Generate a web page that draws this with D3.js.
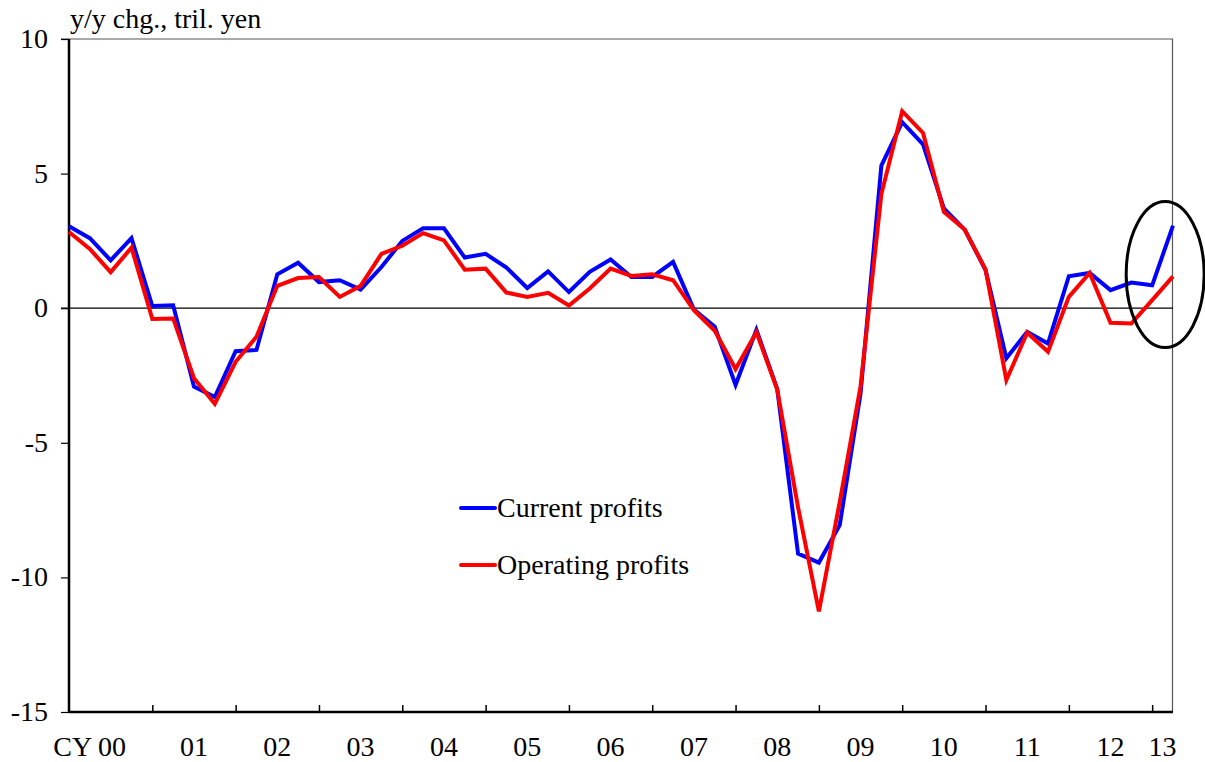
<!DOCTYPE html>
<meta charset="utf-8">
<style>
body { margin: 0; background: #fff; }
svg { display: block; }
text { font-family: "Liberation Serif", "Times New Roman", serif; fill: #000; }
.axis text { font-size: 28px; }
.axis path { display: none; }
</style>
<svg width="1205" height="762"></svg>
<script src="https://d3js.org/d3.v7.min.js"></script>
<script>

// quarterly, 2000Q1 .. 2013Q2
var years = ["00","01","02","03","04","05","06","07","08","09","10","11","12","13"];
var quarters = [];
years.forEach(function(y) {
  [1,2,3,4].forEach(function(q) {
    if (y == "13" && q > 2) return;
    quarters.push(y + "Q" + q);
  });
});

var current = [3.04, 2.6, 1.78, 2.6, 0.08, 0.11, -2.91, -3.3, -1.6, -1.55,
  1.26, 1.69, 0.97, 1.04, 0.69, 1.53, 2.5, 2.97, 2.97, 1.88,
  2.02, 1.51, 0.75, 1.37, 0.6, 1.35, 1.81, 1.16, 1.16, 1.72,
  -0.05, -0.69, -2.85, -0.8, -3.0, -9.12, -9.45, -8.06, -3.17, 5.3,
  6.91, 6.09, 3.71, 2.92, 1.42, -1.86, -0.88, -1.31, 1.19, 1.31,
  0.67, 0.95, 0.85, 3.07];

var operating = [2.83, 2.2, 1.34, 2.25, -0.4, -0.38, -2.6, -3.55, -1.99, -1.06,
  0.83, 1.12, 1.16, 0.42, 0.83, 2.02, 2.32, 2.79, 2.52, 1.43,
  1.47, 0.58, 0.42, 0.57, 0.1, 0.73, 1.47, 1.2, 1.26, 1.04,
  -0.07, -0.84, -2.26, -0.89, -3.02, -7.4, -11.26, -7.2, -2.9, 4.24,
  7.32, 6.51, 3.58, 2.92, 1.44, -2.67, -0.91, -1.62, 0.42, 1.31,
  -0.54, -0.57, 0.3, 1.18];

var yTicks = [-15, -10, -5, 0, 5, 10];

var svg = d3.select("svg");
var plotLeft = 69, plotRight = 1173, plotTop = 39, plotBottom = 712;

var x = d3.scalePoint().domain(quarters).range([plotLeft, plotRight]);
var y = d3.scaleLinear().domain([-15, 10]).range([plotBottom, plotTop]);

// plot frame (top + right, thin grey)
svg.append("line")
  .attr("x1", plotLeft - 8).attr("x2", plotRight).attr("y1", y(10)).attr("y2", y(10))
  .attr("stroke", "#555").attr("stroke-width", 1.2);
svg.append("line")
  .attr("x1", plotRight - 0.5).attr("x2", plotRight - 0.5).attr("y1", y(10)).attr("y2", plotBottom)
  .attr("stroke", "#555").attr("stroke-width", 1.2);

// zero line
svg.append("line")
  .attr("x1", plotLeft - 8).attr("x2", plotRight).attr("y1", y(0)).attr("y2", y(0))
  .attr("stroke", "#000").attr("stroke-width", 1.2);

// y axis (plain hyphen for negatives, like the original)
var yAxis = svg.append("g")
  .attr("class", "axis")
  .attr("transform", "translate(" + plotLeft + ",0)")
  .call(d3.axisLeft(y).tickValues(yTicks).tickSize(8).tickPadding(13)
    .tickFormat(function(d) { return String(d); }));
yAxis.selectAll("line").attr("stroke", "#000").attr("stroke-width", 1.2);
yAxis.selectAll("text").attr("dy", "0.3em");

// x axis ticks, pointing inwards
var yearStarts = quarters.filter(function(q, i) { return i % 4 == 0 && i > 0; });
var xAxis = svg.append("g")
  .attr("class", "axis")
  .attr("transform", "translate(0," + plotBottom + ")")
  .call(d3.axisBottom(x).tickValues(yearStarts).tickSize(-7).tickFormat(""));
xAxis.selectAll("line").attr("stroke", "#000").attr("stroke-width", 1.5);

// year labels, centred on each year
svg.append("g").attr("class", "axis")
  .selectAll("text")
  .data(years)
  .enter().append("text")
  .attr("x", function(d, i) {
    if (d == "13") return (x("13Q1") + x("13Q2")) / 2;
    var cx = x(d + "Q3");
    return i == 0 ? cx - 21 : cx;
  })
  .attr("y", 756)
  .attr("text-anchor", "middle")
  .text(function(d, i) { return i == 0 ? "CY " + d : d; });

// axis lines (thick)
svg.append("line")
  .attr("x1", plotLeft).attr("x2", plotLeft).attr("y1", plotTop).attr("y2", plotBottom + 1)
  .attr("stroke", "#000").attr("stroke-width", 2.5);
svg.append("line")
  .attr("x1", plotLeft).attr("x2", plotRight).attr("y1", plotBottom).attr("y2", plotBottom)
  .attr("stroke", "#000").attr("stroke-width", 2.5);

// unit label
svg.append("text")
  .attr("x", 70).attr("y", 28)
  .style("font-size", "28px")
  .text("y/y chg., tril. yen");

// series
var line = d3.line()
  .x(function(d, i) { return x(quarters[i]); })
  .y(function(d) { return y(d); });

svg.append("path")
  .datum(current)
  .attr("fill", "none")
  .attr("stroke", "#0000ff")
  .attr("stroke-width", 4)
  .attr("d", line);

svg.append("path")
  .datum(operating)
  .attr("fill", "none")
  .attr("stroke", "#ff0000")
  .attr("stroke-width", 4)
  .attr("d", line);

// highlight ellipse around latest quarters
svg.append("ellipse")
  .attr("cx", x("13Q1") + 13).attr("cy", y(1.25))
  .attr("rx", 39).attr("ry", 73)
  .attr("fill", "none")
  .attr("stroke", "#000")
  .attr("stroke-width", 3);

// legend
var legend = [
  {name: "Current profits", color: "#0000ff"},
  {name: "Operating profits", color: "#ff0000"}
];
var lg = svg.append("g").attr("transform", "translate(461,508)");
var item = lg.selectAll("g").data(legend).enter().append("g")
  .attr("transform", function(d, i) { return "translate(0," + (i * 57) + ")"; });
item.append("line")
  .attr("x1", 0).attr("x2", 34)
  .attr("stroke", function(d) { return d.color; })
  .attr("stroke-width", 4)
  .attr("stroke-linecap", "round");
item.append("text")
  .attr("x", 36).attr("y", 9)
  .style("font-size", "28px")
  .text(function(d) { return d.name; });

</script>
